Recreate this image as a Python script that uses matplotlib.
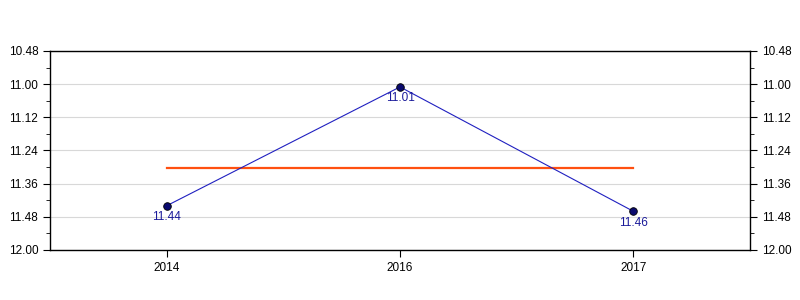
import numpy as np
import matplotlib
matplotlib.use('Agg')
import matplotlib.pyplot as plt
from matplotlib.ticker import FuncFormatter, MultipleLocator

plt.rcParams['font.family'] = ['Liberation Sans', 'DejaVu Sans']

years = ['2014', '2016', '2017']
times = ['11.44', '11.01', '11.46']   # minutes.seconds
tick_start, tick_end, tick_step = 10 * 60 + 48, 12 * 60, 12


def to_sec(s):
    m, sec = s.split('.')
    return int(m) * 60 + int(sec)


def fmt(v, pos=None):
    v = int(round(v))
    return '%d.%02d' % (v // 60, v % 60)


secs = np.array([to_sec(t) for t in times])
x = np.arange(len(years))
avg = secs.mean()

fig = plt.figure(figsize=(8, 3), dpi=100)
ax = fig.add_axes([0.0625, 0.1667, 0.875, 0.6633])

ax.plot(x, secs, color='#2020c0', linewidth=0.8, zorder=3)
ax.scatter(x, secs, s=30, color='#0a0a6e', edgecolors='black', linewidths=0.6, zorder=4)
ax.plot([x[0], x[-1]], [avg, avg], color='#ff5010', linewidth=1.6, zorder=2)

for xi, yi, t in zip(x, secs, times):
    ax.annotate(t, (xi, yi), xytext=(0, -4), textcoords='offset points',
                ha='center', va='top', fontsize=8.5, color='#1a1a9a', zorder=5)

ax.set_xlim(-0.5, len(years) - 0.5)
ax.set_ylim(tick_end, tick_start)
ax.set_xticks(x)
ax.set_xticklabels(years)
ax.yaxis.set_major_locator(MultipleLocator(tick_step))
ax.yaxis.set_minor_locator(MultipleLocator(tick_step / 2))
ax.yaxis.set_major_formatter(FuncFormatter(fmt))
ax.tick_params(axis='y', which='both', left=True, right=True, labelleft=True, labelright=True,
               direction='out', labelsize=8.5)
ax.tick_params(axis='y', which='major', length=5)
ax.tick_params(axis='y', which='minor', length=3)
ax.tick_params(axis='x', direction='out', length=5, labelsize=8.5)
ax.grid(axis='y', which='major', color='#d8d8d8', linewidth=0.8)
ax.set_axisbelow(True)
for sp in ax.spines.values():
    sp.set_linewidth(1.0)

fig.savefig('out.png', dpi=100)
